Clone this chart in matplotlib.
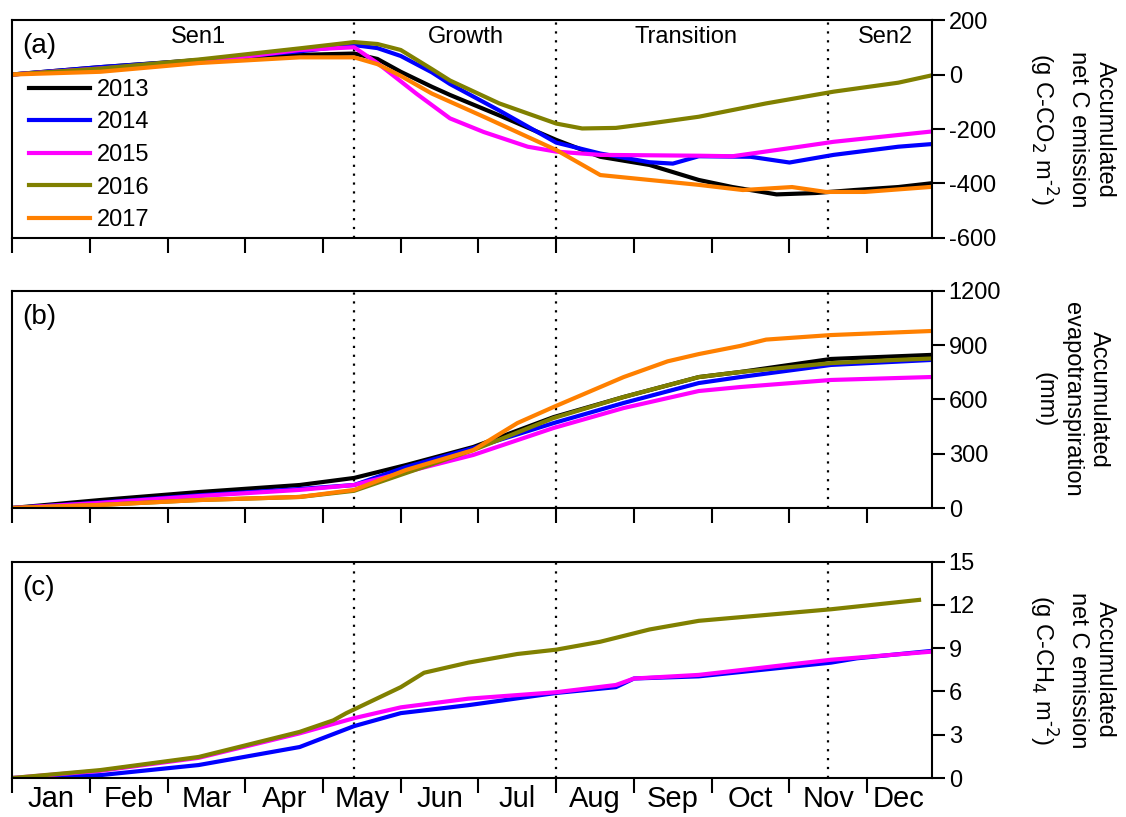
import matplotlib
matplotlib.use('Agg')
import matplotlib.pyplot as plt

plt.rcParams['font.family'] = ['Liberation Sans', 'DejaVu Sans']
plt.rcParams['axes.unicode_minus'] = False

years = ['2013', '2014', '2015', '2016', '2017']
colors = {'2013': 'black', '2014': '#0000ff', '2015': '#ff00ff', '2016': '#808000', '2017': '#ff8000'}
months = ['Jan', 'Feb', 'Mar', 'Apr', 'May', 'Jun', 'Jul', 'Aug', 'Sep', 'Oct', 'Nov', 'Dec']
phases = ['Sen1', 'Growth', 'Transition', 'Sen2']
phase_bounds = [132, 210, 315]

# (a) accumulated net C-CO2 emission, day of year / value
co2_days = {
    '2013': [0, 34, 72, 111, 132, 141, 150, 162, 169, 188, 210, 227, 246, 265, 278, 295, 310, 325, 342, 354],
    '2014': [0, 34, 72, 111, 132, 141, 150, 162, 169, 188, 210, 227, 246, 255, 265, 285, 300, 317, 342, 354],
    '2015': [0, 34, 72, 111, 132, 141, 156, 169, 182, 199, 210, 227, 265, 278, 304, 317, 342, 354],
    '2016': [0, 34, 72, 111, 132, 141, 150, 162, 169, 188, 210, 220, 233, 246, 265, 291, 317, 342, 354],
    '2017': [0, 34, 72, 111, 132, 141, 150, 162, 182, 210, 227, 246, 265, 282, 301, 314, 329, 354],
}
co2_vals = {
    '2013': [0, 27, 53, 72, 77, 57, 10, -45, -75, -150, -240, -302, -332, -387, -413, -440, -435, -424, -413, -400],
    '2014': [0, 27, 52, 85, 108, 97, 68, 8, -35, -132, -250, -290, -322, -327, -300, -302, -323, -295, -265, -256],
    '2015': [0, 22, 45, 90, 100, 42, -70, -161, -211, -265, -283, -295, -298, -300, -265, -247, -222, -210],
    '2016': [0, 22, 55, 96, 119, 112, 90, 20, -22, -106, -180, -198, -196, -180, -155, -106, -63, -30, -5],
    '2017': [0, 10, 42, 63, 63, 38, -5, -70, -155, -277, -369, -387, -405, -424, -413, -431, -431, -413],
}

# (b) accumulated evapotranspiration
et_days = {
    '2013': [0, 34, 72, 111, 132, 152, 178, 209, 236, 265, 281, 316, 354],
    '2014': [0, 34, 72, 111, 132, 152, 178, 209, 236, 265, 281, 316, 354],
    '2015': [0, 34, 72, 111, 132, 152, 178, 209, 236, 265, 281, 316, 354],
    '2016': [0, 34, 72, 111, 132, 152, 178, 209, 236, 265, 281, 316, 340, 354],
    '2017': [0, 34, 72, 111, 132, 152, 178, 195, 209, 236, 253, 265, 281, 291, 316, 354],
}
et_vals = {
    '2013': [0, 44, 88, 127, 166, 237, 337, 502, 613, 723, 751, 823, 845],
    '2014': [0, 30, 70, 105, 127, 226, 331, 469, 580, 690, 723, 790, 817],
    '2015': [0, 28, 66, 100, 127, 199, 293, 442, 552, 646, 668, 707, 723],
    '2016': [0, 17, 44, 61, 95, 193, 320, 497, 613, 723, 751, 800, 817, 825],
    '2017': [0, 17, 44, 61, 100, 210, 320, 469, 558, 723, 810, 850, 895, 930, 955, 977],
}

# (c) accumulated net C-CH4 emission
ch4_days = {
    '2014': [0, 34, 72, 111, 132, 150, 176, 210, 233, 240, 265, 316, 326, 354],
    '2015': [0, 34, 72, 111, 132, 150, 176, 210, 233, 240, 265, 316, 354],
    '2016': [0, 34, 72, 111, 124, 129, 150, 159, 176, 195, 210, 227, 246, 265, 316, 350],
}
ch4_vals = {
    '2014': [0, 0.2, 0.9, 2.15, 3.6, 4.5, 5.05, 5.9, 6.3, 6.9, 7.05, 8.0, 8.3, 8.8],
    '2015': [0, 0.5, 1.4, 3.1, 4.15, 4.9, 5.5, 5.95, 6.45, 6.9, 7.15, 8.2, 8.75],
    '2016': [0, 0.55, 1.46, 3.2, 4.0, 4.5, 6.3, 7.3, 8.0, 8.6, 8.9, 9.45, 10.3, 10.9, 11.7, 12.35],
}

fig = plt.figure(figsize=(11.26, 8.17), dpi=100)
left, width = 0.0107, 0.817
ax_a = fig.add_axes([left, 0.7087, width, 0.2668])
ax_b = fig.add_axes([left, 0.3782, width, 0.2660])
ax_c = fig.add_axes([left, 0.0477, width, 0.2648])

for y in years:
    ax_a.plot(co2_days[y], co2_vals[y], color=colors[y], lw=3, label=y)
    ax_b.plot(et_days[y], et_vals[y], color=colors[y], lw=3)
for y in ['2014', '2015', '2016']:
    ax_c.plot(ch4_days[y], ch4_vals[y], color=colors[y], lw=3)

ylims = [(-600, 200), (0, 1200), (0, 15)]
yticks = [range(-600, 201, 200), range(0, 1201, 300), range(0, 16, 3)]
ylabels = ['Accumulated\nnet C emission\n(g C-CO$_2$ m$^{\\text{-2}}$)',
           'Accumulated\nevapotranspiration\n(mm)',
           'Accumulated\nnet C emission\n(g C-CH$_4$ m$^{\\text{-2}}$)']
letters = ['(a)', '(b)', '(c)']

for ax, yl, yt, lab, let in zip([ax_a, ax_b, ax_c], ylims, yticks, ylabels, letters):
    ax.set_xlim(0, 355)
    ax.set_ylim(*yl)
    ax.set_yticks(list(yt))
    ax.yaxis.tick_right()
    ax.tick_params(axis='y', direction='out', length=9, width=1.5, labelsize=17, pad=3)
    ax.set_xticks(range(0, 331, 30))
    ax.tick_params(axis='x', which='major', direction='out', length=11, width=1.5, labelbottom=False)
    for s in ax.spines.values():
        s.set_linewidth(1.5)
    for d in phase_bounds:
        ax.axvline(d, color='black', ls=(0, (1, 3)), lw=1.6, zorder=0)
    ax.text(1.152, 0.5, lab, transform=ax.transAxes, rotation=270, ha='center', va='center',
            fontsize=17, multialignment='center', linespacing=1.3)
    ax.text(0.011, 0.88, let, transform=ax.transAxes, fontsize=20, va='center', ha='left')

ax_c.set_xticks([15, 45, 75, 105, 135, 165, 195, 225, 255, 285, 315, 342], minor=True)
ax_c.set_xticklabels(months, minor=True, fontsize=21)
ax_c.tick_params(axis='x', which='minor', length=0, pad=5)

phase_x = [72, 175, 260, 337]
for px, ph in zip(phase_x, phases):
    ax_a.text(px, 0.92, ph, transform=ax_a.get_xaxis_transform(), ha='center', va='center', fontsize=17)

ax_a.legend(loc='upper left', bbox_to_anchor=(0.018, 0.73), frameon=False, fontsize=17,
            handlelength=2.6, handletextpad=0.3, labelspacing=0.45, borderpad=0, borderaxespad=0)

fig.savefig('out.png', dpi=100)
